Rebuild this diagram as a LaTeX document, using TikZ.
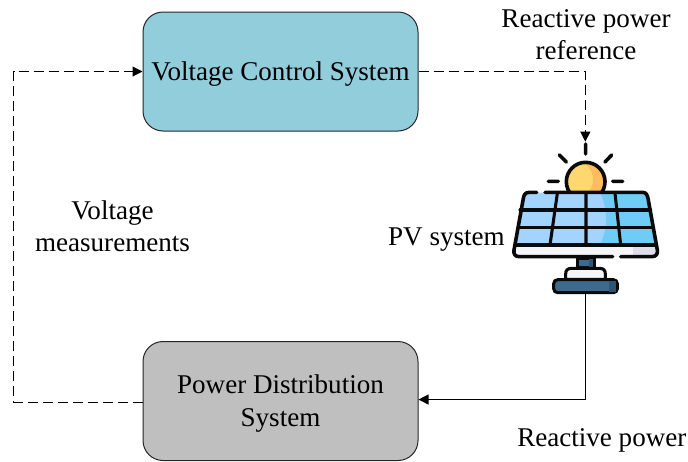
\documentclass[tikz,border=0pt]{standalone}
\usepackage{fontspec}
\setmainfont{Liberation Serif}
\usetikzlibrary{arrows.meta}
\definecolor{boxblue}{HTML}{92CDDC}
\definecolor{boxgray}{HTML}{BFBFBF}
\definecolor{sunlight}{HTML}{FFD76F}
\definecolor{sundark}{HTML}{FDBC5E}
\definecolor{celllight}{HTML}{A3D3FF}
\definecolor{celldark}{HTML}{6ECCF6}
\definecolor{steel}{HTML}{3E6A8E}
\definecolor{steeldark}{HTML}{2F5575}
\definecolor{framelight}{HTML}{F5F5F7}
\definecolor{framedark}{HTML}{DEDEEA}
\definecolor{icon}{HTML}{0A0A0A}
\tikzset{
  x=0.75pt,y=-0.75pt,
  sysbox/.style={draw=black!85,line width=0.75pt,rounded corners=15pt,minimum width=206.25pt,inner sep=0pt,align=center},
  lbl/.style={inner sep=0pt,align=center,font=\fontsize{20.3}{24.3}\selectfont},
  conn/.style={line width=0.8pt,-{Triangle[length=7.5pt,width=7.5pt]}},
  dashconn/.style={conn,dash pattern=on 7.5pt off 3.75pt},
  iconline/.style={draw=icon,line width=2.7pt,line cap=round,line join=round},
  iconthin/.style={draw=icon,line width=2.3pt,line cap=round,line join=round},
}
\begin{document}
\begin{tikzpicture}
\useasboundingbox (0,0) rectangle (688,461);
\node[sysbox,fill=boxblue,minimum height=89.25pt,lbl] (vcs) at (280.5,71.5) {\rule{0pt}{18.2pt}Voltage Control System};
\node[sysbox,fill=boxgray,minimum height=89.25pt,lbl] (pds) at (280.5,401) {\rule{0pt}{18.2pt}Power Distribution\\[0.75pt]System};
\node[lbl] (rpr) at (586,34.5) {Reactive power\\reference};
\node[lbl] (vm) at (112.5,226.5) {Voltage\\measurements};
\node[lbl,anchor=east] (pvl) at (505,240) {PV system};
\node[lbl,anchor=west] (rp) at (517,440) {Reactive power};
% PV icon, drawn in zoom coordinates
\begin{scope}[shift={(500,130)},x=0.25pt,y=-0.25pt]
  \begin{scope}
    \clip (150,60) rectangle (370,186);
    \fill[sunlight] (257,155) circle (14.5pt);
    \begin{scope}
      \clip (257,155) circle (14.5pt);
      \fill[sundark] (240,95) .. controls (290,115) and (285,165) .. (265,186) -- (330,186) -- (330,90) -- cycle;
    \end{scope}
    \draw[iconline] (257,155) circle (14.5pt);
  \end{scope}
  \draw[iconline] (257,42) -- (257,72) (178,75) -- (199,96) (335,75) -- (315,96) (145,154) -- (175,154) (338,154) -- (368,154);
  \fill[celllight] (75,188) -- (440,188) -- (465,345) -- (45,345) -- cycle;
  \fill[celldark] (300,188) .. controls (325,240) and (325,290) .. (300,345) -- (465,345) -- (440,188) -- cycle;
  \fill[framelight] (42,345) -- (470,345) -- (470,380) -- (42,380) -- cycle;
  \fill[framedark] (400,347) -- (468,347) -- (468,378) -- (400,378) -- cycle;
  \draw[iconline] (110,187) -- (88,187) .. controls (75,187) and (72,195) .. (70,205) -- (42,360) .. controls (40,372) and (45,380) .. (58,380) -- (338,380);
  \draw[iconline] (135,187) -- (428,187) .. controls (438,187) and (442,195) .. (444,205) -- (472,360) .. controls (474,372) and (468,380) .. (455,380) -- (362,380);
  \draw[iconthin] (60,240) -- (452,240) (55,292) -- (460,292) (45,345) -- (468,345);
  \draw[iconthin] (172,190) -- (150,345) (258,190) -- (258,345) (345,190) -- (362,345);
  \filldraw[fill=steel,draw=icon,line width=2.3pt,line join=round] (232,385) rectangle (282,413);
  \fill[steeldark] (268,387) rectangle (280,411);
  \filldraw[fill=framelight,draw=icon,line width=2.3pt,line join=round] (197,448) -- (197,432) .. controls (197,420) and (203,415) .. (215,415) -- (298,415) .. controls (310,415) and (316,420) .. (316,432) -- (316,448) -- cycle;
  \filldraw[fill=steel,draw=icon,line width=2.3pt,rounded corners=3pt] (161,449) rectangle (352,488);
  \fill[steeldark] (328,452) rectangle (349,485);
  \coordinate (pvtop) at (256,35);
  \coordinate (pvbottom) at (256,492);
\end{scope}
\coordinate (leftbend) at (13.5,237);
% connectors
\draw[dashconn] (vcs.east) -| (pvtop);
\draw[conn] (pvbottom) |- ([yshift=1.1pt]pds.east);
\draw[dashconn] ([yshift=-1.1pt]pds.west) -| (leftbend) |- (vcs.west);
\end{tikzpicture}
\end{document}
